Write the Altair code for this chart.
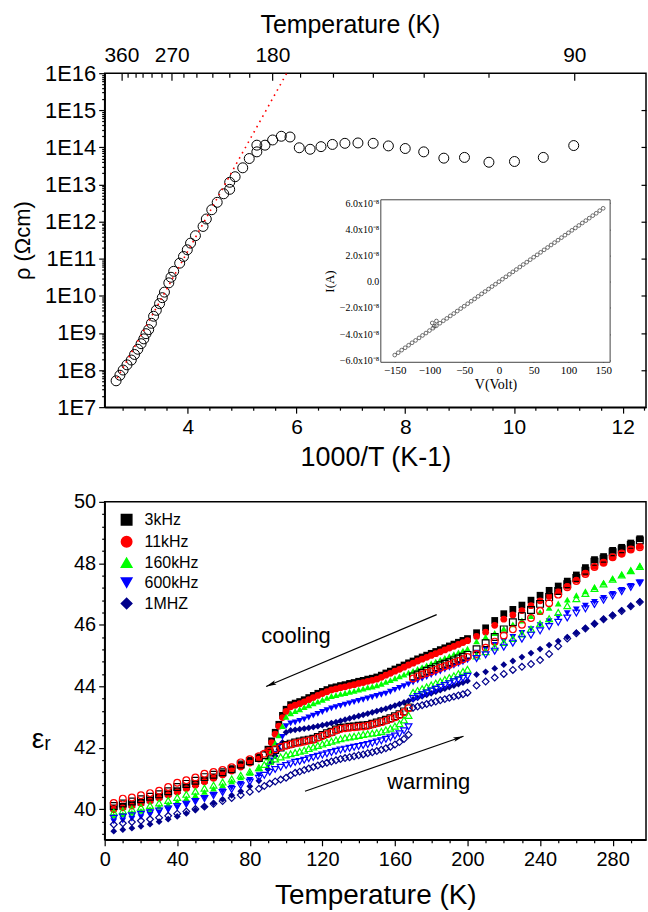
import math
import altair as alt
import pandas as pd

FONT = "Liberation Sans"
SERIF = "Liberation Serif"

# ---------------- top panel: resistivity vs 1000/T ----------------
INV_T = [2.68, 2.75, 2.81, 2.88, 2.96, 3.02, 3.08, 3.14, 3.19, 3.23,
         3.28, 3.33, 3.37, 3.42, 3.48, 3.53, 3.57, 3.65, 3.69, 3.74,
         3.85, 3.92, 3.99, 4.05, 4.14, 4.28, 4.34, 4.44, 4.54, 4.66,
         4.77, 4.77, 4.87, 5.01, 5.13, 5.27, 5.27, 5.42, 5.56, 5.72,
         5.88, 6.05, 6.25, 6.45, 6.66, 6.89, 7.13, 7.41, 7.69, 8.00,
         8.34, 8.71, 9.09, 9.54, 10.01, 10.54, 11.10]
LOG_RHO = [7.71, 7.86, 8.00, 8.14, 8.27, 8.42, 8.56, 8.71, 8.84, 8.98,
           9.09, 9.26, 9.45, 9.61, 9.79, 9.95, 10.10, 10.35, 10.50, 10.66,
           10.88, 11.06, 11.24, 11.42, 11.62, 11.87, 12.07, 12.32, 12.52, 12.75,
           12.87, 13.06, 13.21, 13.45, 13.70, 13.88, 14.06, 14.06, 14.20, 14.30,
           14.28, 13.99, 13.95, 14.02, 14.08, 14.11, 14.12, 14.11, 14.04, 13.97,
           13.88, 13.71, 13.73, 13.60, 13.62, 13.73, 14.05]
FIT_INV_T = [2.70, 5.82]
FIT_LOG_RHO = [7.78, 16.0]
T_AXIS_MAJOR = [360, 270, 180, 90]
T_AXIS_MINOR = [345, 330, 315, 300, 285, 255, 240, 225, 210, 195, 165, 150, 135, 120, 105]

# inset I-V (current in units of 1e-8 A)
IV_VOLT = [-150, -145, -140, -135, -130, -125, -120, -115, -110, -105,
           -100, -95, -90, -85, -80, -75, -70, -65, -60, -55,
           -50, -45, -40, -35, -30, -25, -20, -15, -10, -5,
           0, 5, 10, 15, 20, 25, 30, 35, 40, 45,
           50, 55, 60, 65, 70, 75, 80, 85, 90, 95,
           100, 105, 110, 115, 120, 125, 130, 135, 140, 145, 150,
           -96, -93, -90]
IV_CURRENT = [-5.60, -5.42, -5.22, -5.04, -4.85, -4.66, -4.48, -4.29, -4.10, -3.92,
              -3.73, -3.55, -3.36, -3.17, -2.98, -2.80, -2.61, -2.43, -2.24, -2.05,
              -1.87, -1.68, -1.49, -1.31, -1.12, -0.93, -0.75, -0.56, -0.37, -0.19,
              0.00, 0.19, 0.37, 0.56, 0.75, 0.93, 1.12, 1.31, 1.49, 1.68,
              1.87, 2.05, 2.24, 2.43, 2.61, 2.80, 2.98, 3.17, 3.36, 3.55,
              3.73, 3.92, 4.10, 4.29, 4.48, 4.66, 4.85, 5.04, 5.22, 5.42, 5.60,
              -3.15, -3.40, -3.00]

# ---------------- bottom panel: dielectric constant ----------------
FREQS = ["3kHz", "11kHz", "160kHz", "600kHz", "1MHZ"]
COLORS = ["#000000", "#ff0000", "#00ff00", "#0000ff", "#00008b"]
SHAPES = ["square", "circle", "triangle-up", "triangle-down", "diamond"]

T_COOL = [295, 290, 285, 280, 275, 270, 265, 260, 255, 250, 245, 240, 235, 230, 225, 220, 215, 210, 205,
          200, 197.5, 195, 192.5, 190, 187.5, 185, 182.5, 180, 177.5, 175, 172.5, 170, 167.5, 165, 162.5,
          160, 157.5, 155, 152.5, 150, 147.5, 145, 142.5, 140, 137.5, 135, 132.5, 130, 127.5, 125, 122.5,
          120, 117.5, 115, 112.5, 110, 107.5, 105, 102.5,
          100, 98, 96, 94, 92, 90,
          85, 80, 75, 70, 65, 60, 55, 50, 45, 40, 35, 30, 25, 20, 15, 10, 5]

COOL_3K = [48.80, 48.66, 48.52, 48.42, 48.22, 48.12, 47.86, 47.62, 47.42, 47.26, 47.12, 46.96, 46.80, 46.64, 46.50, 46.36, 46.14, 45.90, 45.74,
           45.55, 45.49, 45.43, 45.37, 45.31, 45.25, 45.19, 45.13, 45.07, 45.01, 44.95, 44.89, 44.82, 44.76, 44.69, 44.62,
           44.56, 44.49, 44.43, 44.36, 44.30, 44.26, 44.23, 44.19, 44.16, 44.12, 44.09, 44.05, 44.02, 43.98, 43.95, 43.89,
           43.83, 43.77, 43.70, 43.63, 43.56, 43.50, 43.45, 43.40,
           43.25, 43.05, 42.76, 42.50, 42.22, 41.95,
           41.70, 41.58, 41.44, 41.30, 41.17, 41.05, 40.94, 40.83, 40.72, 40.60, 40.50, 40.40, 40.30, 40.22, 40.15, 40.09, 40.04]
COOL_11K = [48.55, 48.45, 48.30, 48.20, 48.02, 47.90, 47.68, 47.45, 47.25, 47.08, 46.93, 46.78, 46.62, 46.46, 46.32, 46.18, 45.98, 45.76, 45.62,
            45.48, 45.42, 45.36, 45.30, 45.24, 45.18, 45.12, 45.06, 45.00, 44.94, 44.88, 44.82, 44.75, 44.69, 44.62, 44.55,
            44.49, 44.42, 44.36, 44.29, 44.23, 44.19, 44.16, 44.12, 44.09, 44.05, 44.02, 43.98, 43.95, 43.91, 43.88, 43.82,
            43.76, 43.70, 43.63, 43.56, 43.49, 43.43, 43.38, 43.33,
            43.18, 42.98, 42.70, 42.44, 42.16, 41.90,
            41.63, 41.50, 41.37, 41.24, 41.11, 41.00, 40.89, 40.78, 40.67, 40.56, 40.46, 40.36, 40.26, 40.18, 40.10, 40.04, 39.98]
COOL_160K = [47.92, 47.78, 47.64, 47.51, 47.37, 47.23, 47.09, 46.96, 46.82, 46.69, 46.55, 46.41, 46.28, 46.14, 46.01, 45.87, 45.73, 45.60, 45.46,
             45.22, 45.16, 45.10, 45.04, 44.98, 44.92, 44.86, 44.80, 44.74, 44.68, 44.62, 44.56, 44.50, 44.44, 44.38, 44.32,
             44.26, 44.20, 44.14, 44.08, 44.03, 43.99, 43.96, 43.92, 43.89, 43.85, 43.82, 43.78, 43.75, 43.71, 43.68, 43.62,
             43.56, 43.50, 43.44, 43.38, 43.32, 43.25, 43.19, 43.12,
             43.00, 42.70, 42.40, 42.15, 41.90, 41.68,
             41.33, 41.18, 41.03, 40.90, 40.78, 40.67, 40.56, 40.45, 40.35, 40.25, 40.16, 40.08, 40.00, 39.94, 39.88, 39.83, 39.79]
COOL_600K = [47.38, 47.26, 47.13, 47.00, 46.87, 46.74, 46.62, 46.50, 46.38, 46.25, 46.12, 45.99, 45.86, 45.73, 45.60, 45.47, 45.34, 45.21, 45.09,
             44.84, 44.78, 44.72, 44.66, 44.60, 44.54, 44.48, 44.42, 44.36, 44.30, 44.24, 44.18, 44.12, 44.06, 44.00, 43.94,
             43.88, 43.82, 43.76, 43.72, 43.68, 43.64, 43.60, 43.56, 43.52, 43.48, 43.44, 43.40, 43.36, 43.32, 43.28, 43.22,
             43.16, 43.10, 43.04, 42.98, 42.92, 42.87, 42.82, 42.79,
             42.70, 42.35, 42.05, 41.80, 41.58, 41.40,
             41.10, 40.95, 40.82, 40.70, 40.58, 40.47, 40.36, 40.26, 40.16, 40.06, 39.97, 39.89, 39.81, 39.74, 39.68, 39.63, 39.60]
COOL_1M = [46.76, 46.61, 46.47, 46.32, 46.18, 46.03, 45.89, 45.74, 45.60, 45.47, 45.34, 45.21, 45.08, 44.95, 44.82, 44.70, 44.58, 44.47, 44.38,
           44.17, 44.12, 44.07, 44.02, 43.97, 43.92, 43.87, 43.82, 43.77, 43.72, 43.67, 43.62, 43.57, 43.52, 43.47, 43.42,
           43.37, 43.32, 43.27, 43.23, 43.19, 43.15, 43.11, 43.07, 43.03, 42.99, 42.95, 42.91, 42.87, 42.83, 42.80, 42.76,
           42.73, 42.70, 42.67, 42.64, 42.62, 42.60, 42.58, 42.56,
           42.50, 42.17, 41.95, 41.73, 41.52, 41.30,
           40.92, 40.74, 40.58, 40.45, 40.32, 40.20, 40.08, 39.97, 39.86, 39.76, 39.67, 39.59, 39.51, 39.44, 39.38, 39.33, 39.28]

T_WARM = [5, 10, 15, 20, 25, 30, 35, 40, 45, 50, 55, 60, 65, 70, 75, 80, 85,
          88, 91, 94, 97,
          100, 102.5, 105, 107.5, 110, 112.5, 115, 117.5, 120, 122.5, 125, 127.5, 130, 132.5, 135, 137.5,
          140, 142.5, 145, 147.5, 150, 152.5, 155, 157.5, 160, 162.5, 165, 167.5,
          170, 172.5, 175, 177.5, 180, 182.5, 185, 187.5, 190, 192.5, 195, 197.5, 200,
          205, 210, 215, 220, 225, 230, 235, 240, 245, 250, 255, 260, 265, 270, 275, 280, 285, 290, 295]

WARM_3K = [40.10, 40.18, 40.25, 40.32, 40.40, 40.48, 40.58, 40.72, 40.82, 40.92, 41.04, 41.12, 41.20, 41.30, 41.45, 41.56, 41.66,
           41.75, 41.84, 41.92, 42.00,
           42.09, 42.13, 42.17, 42.20, 42.23, 42.26, 42.29, 42.35, 42.41, 42.47, 42.52, 42.59, 42.64, 42.66, 42.68, 42.69,
           42.71, 42.72, 42.74, 42.78, 42.82, 42.86, 42.91, 42.96, 43.02, 43.09, 43.18, 43.31,
           44.32, 44.38, 44.44, 44.50, 44.56, 44.62, 44.68, 44.73, 44.78, 44.84, 44.90, 44.96, 45.02,
           45.20, 45.40, 45.60, 45.85, 46.08, 46.28, 46.48, 46.68, 46.90, 47.10, 47.32, 47.52, 47.76, 48.05, 48.15, 48.36, 48.46, 48.60, 48.74]
WARM_11K = [40.20, 40.34, 40.38, 40.45, 40.52, 40.60, 40.72, 40.86, 40.94, 41.03, 41.15, 41.21, 41.27, 41.36, 41.52, 41.62, 41.72,
            41.80, 41.88, 41.95, 42.02,
            42.06, 42.10, 42.14, 42.17, 42.20, 42.23, 42.26, 42.32, 42.38, 42.44, 42.49, 42.56, 42.61, 42.63, 42.65, 42.66,
            42.68, 42.69, 42.71, 42.75, 42.79, 42.83, 42.88, 42.93, 42.99, 43.06, 43.15, 43.28,
            44.25, 44.32, 44.38, 44.43, 44.48, 44.54, 44.60, 44.65, 44.70, 44.76, 44.82, 44.88, 44.95,
            45.05, 45.25, 45.45, 45.65, 45.85, 46.00, 46.22, 46.45, 46.70, 46.98, 47.22, 47.42, 47.65, 47.88, 48.02, 48.20, 48.32, 48.45, 48.52]
WARM_160K = [39.90, 39.95, 40.00, 40.06, 40.12, 40.20, 40.28, 40.38, 40.48, 40.58, 40.68, 40.78, 40.88, 40.98, 41.10, 41.22, 41.35,
             41.45, 41.55, 41.63, 41.70,
             41.76, 41.80, 41.84, 41.88, 41.92, 41.97, 42.02, 42.07, 42.12, 42.17, 42.21, 42.25, 42.29, 42.32, 42.35, 42.37,
             42.40, 42.43, 42.45, 42.47, 42.49, 42.53, 42.58, 42.63, 42.70, 42.78, 42.90, 43.05,
             43.80, 43.86, 43.92, 43.98, 44.04, 44.10, 44.16, 44.22, 44.28, 44.34, 44.41, 44.48, 44.55,
             44.98, 45.12, 45.28, 45.42, 45.55, 45.70, 45.86, 46.03, 46.20, 46.40, 46.62, 46.85, 47.02, 47.18, 47.33, 47.48, 47.62, 47.76, 47.90]
WARM_600K = [39.70, 39.74, 39.78, 39.83, 39.88, 39.94, 40.00, 40.08, 40.16, 40.25, 40.34, 40.44, 40.54, 40.64, 40.76, 40.88, 41.00,
             41.10, 41.20, 41.29, 41.36,
             41.42, 41.47, 41.52, 41.55, 41.59, 41.64, 41.68, 41.72, 41.76, 41.80, 41.84, 41.88, 41.92, 41.95, 41.98, 42.01,
             42.04, 42.07, 42.10, 42.14, 42.18, 42.22, 42.27, 42.32, 42.38, 42.45, 42.55, 42.68,
             43.60, 43.66, 43.72, 43.78, 43.84, 43.90, 43.96, 44.02, 44.08, 44.14, 44.20, 44.26, 44.32,
             44.90, 45.02, 45.14, 45.27, 45.40, 45.53, 45.66, 45.80, 45.94, 46.08, 46.22, 46.38, 46.52, 46.66, 46.80, 46.94, 47.08, 47.22, 47.36]
WARM_1M = [39.50, 39.54, 39.58, 39.62, 39.67, 39.72, 39.78, 39.85, 39.92, 40.00, 40.08, 40.17, 40.26, 40.36, 40.46, 40.56, 40.66,
           40.75, 40.83, 40.90, 40.96,
           41.02, 41.10, 41.18, 41.22, 41.27, 41.32, 41.37, 41.42, 41.47, 41.51, 41.55, 41.59, 41.63, 41.66, 41.69, 41.72,
           41.75, 41.78, 41.82, 41.85, 41.89, 41.93, 41.98, 42.03, 42.10, 42.18, 42.28, 42.42,
           43.30, 43.34, 43.38, 43.42, 43.46, 43.50, 43.54, 43.58, 43.62, 43.66, 43.70, 43.74, 43.79,
           44.02, 44.15, 44.28, 44.40, 44.53, 44.63, 44.72, 44.85, 45.05, 45.30, 45.55, 45.72, 45.88, 46.03, 46.18, 46.30, 46.45, 46.60, 46.74]

COOL_VALUES = [COOL_3K, COOL_11K, COOL_160K, COOL_600K, COOL_1M]
WARM_VALUES = [WARM_3K, WARM_11K, WARM_160K, WARM_600K, WARM_1M]

# annotations (data units of the bottom panel)
ARROW_T = [183.0, 89.0, 110.4, 197.8]
ARROW_EPS = [46.33, 43.99, 40.58, 42.37]
ARROW_ID = ["cooling", "cooling", "warming", "warming"]
HEAD_T = [89.0, 197.8]
HEAD_EPS = [43.99, 42.37]
HEAD_ANGLE = [247, 71]
LABEL_T = [105.5, 178.6]
LABEL_EPS = [45.62, 40.88]
LABEL_TEXT = ["cooling", "warming"]

# ---------------- build frames ----------------
rho_df = pd.DataFrame({"u": INV_T, "L": LOG_RHO})
fit_df = pd.DataFrame({"u": FIT_INV_T, "L": FIT_LOG_RHO})
topmaj_df = pd.DataFrame({"u": [1000.0 / t for t in T_AXIS_MAJOR], "L": [16.0] * len(T_AXIS_MAJOR)})
topmin_df = pd.DataFrame({"u": [1000.0 / t for t in T_AXIS_MINOR], "L": [16.0] * len(T_AXIS_MINOR)})
iv_df = pd.DataFrame({"V": IV_VOLT, "I": IV_CURRENT})

cool_rows, warm_rows = [], []
for k, (f, vals) in enumerate(zip(FREQS, COOL_VALUES)):
    for t, v in zip(T_COOL, vals):
        cool_rows.append({"T": t, "eps": v, "freq": f, "k": k})
for k, (f, vals) in enumerate(zip(FREQS, WARM_VALUES)):
    for t, v in zip(T_WARM, vals):
        warm_rows.append({"T": t, "eps": v, "freq": f, "k": k})
cool_df = pd.DataFrame(cool_rows)
warm_df = pd.DataFrame(warm_rows)
arrow_df = pd.DataFrame({"T": ARROW_T, "eps": ARROW_EPS, "id": ARROW_ID})
head_df = pd.DataFrame({"T": HEAD_T, "eps": HEAD_EPS, "ang": HEAD_ANGLE})
label_df = pd.DataFrame({"T": LABEL_T, "eps": LABEL_EPS, "txt": LABEL_TEXT})


def sc(domain, rng=None):
    if rng is None:
        return alt.Scale(domain=domain, nice=False, zero=False)
    return alt.Scale(domain=domain, range=rng, nice=False, zero=False)


# ---------------- top panel ----------------
W1, H1 = 543, 335
X1 = [2.47, 12.43]
Y1 = [7.0, 16.0]
X1_MINOR = [round(2.8 + 0.4 * i, 2) for i in range(25) if round((2.8 + 0.4 * i) * 10) % 20 != 0]
Y1_MINOR = [n + math.log10(m) for n in range(7, 16) for m in range(2, 10)]

circles = alt.Chart(rho_df).mark_point(
    shape="circle", size=100, filled=False, color="black", strokeWidth=1, opacity=1
).encode(
    x=alt.X("u:Q", scale=sc(X1), axis=alt.Axis(
        orient="bottom", values=[4, 6, 8, 10, 12], title="1000/T (K-1)", tickSize=6,
        labelFontSize=21, titleFontSize=27, labelPadding=3, titlePadding=8)),
    y=alt.Y("L:Q", scale=sc(Y1), axis=alt.Axis(
        orient="left", values=list(range(7, 17)), labelExpr="'1E' + datum.value",
        title="ρ (Ωcm)", tickSize=6, labelFontSize=22, titleFontSize=22,
        labelPadding=3, titlePadding=10)),
)

fit = alt.Chart(fit_df).mark_line(color="red", strokeDash=[1.6, 4.4], strokeWidth=1.6).encode(
    x=alt.X("u:Q", scale=sc(X1), axis=alt.Axis(
        orient="bottom", values=X1_MINOR, labels=False, title=None, tickSize=3, domain=False)),
    y=alt.Y("L:Q", scale=sc(Y1), axis=alt.Axis(
        orient="left", values=Y1_MINOR, labels=False, title=None, tickSize=3, domain=False)),
)

top_major = alt.Chart(topmaj_df).mark_point(opacity=0).encode(
    x=alt.X("u:Q", scale=sc(X1), axis=alt.Axis(
        orient="top", values=[1000.0 / t for t in T_AXIS_MAJOR],
        labelExpr="format(1000/datum.value, '.0f')", title="Temperature (K)",
        tickSize=7, offset=-7, domain=False, labelFontSize=21, titleFontSize=25,
        labelPadding=8, titlePadding=7, titleX=246)),
    y=alt.Y("L:Q", scale=sc(Y1), axis=alt.Axis(
        orient="right", values=list(range(8, 16)), labels=False, title=None,
        tickSize=5, offset=-5, domain=False)),
)

top_minor = alt.Chart(topmin_df).mark_point(opacity=0).encode(
    x=alt.X("u:Q", scale=sc(X1), axis=alt.Axis(
        orient="top", values=[1000.0 / t for t in T_AXIS_MINOR], labels=False,
        title=None, tickSize=4, offset=-4, domain=False)),
    y=alt.Y("L:Q", scale=sc(Y1), axis=None),
)

# inset
IX = [-170, 160]
IY = [-6.15, 6.25]
IX_R = [277, 507]
IY_R = [290, 127]
IV_XT = [-150, -100, -50, 0, 50, 100, 150]
IV_YT = [-6, -4, -2, 0, 2, 4, 6]
frame_df = pd.DataFrame({"x0": [IX[0]], "x1": [IX[1]], "y0": [IY[0]], "y1": [IY[1]]})

inset_frame = alt.Chart(frame_df).mark_rect(fill="white", stroke="#444444", strokeWidth=1).encode(
    x=alt.X("x0:Q", scale=sc(IX, IX_R), axis=alt.Axis(
        orient="top", values=IV_XT, labels=False, title=None, tickSize=3,
        offset=-(IY_R[1] + 3), domain=False, tickColor="#444444")),
    x2="x1:Q",
    y=alt.Y("y0:Q", scale=sc(IY, IY_R), axis=alt.Axis(
        orient="right", values=IV_YT, labels=False, title=None, tickSize=3,
        offset=-(W1 - IX_R[1] + 3), domain=False, tickColor="#444444")),
    y2="y1:Q",
)

inset_pts = alt.Chart(iv_df).mark_point(
    shape="circle", size=14, filled=False, color="#333333", strokeWidth=0.7, opacity=1
).encode(
    x=alt.X("V:Q", scale=sc(IX, IX_R), axis=alt.Axis(
        orient="bottom", values=IV_XT, offset=-(H1 - IY_R[0] + 3), tickSize=3, domain=False,
        tickColor="#444444", labelFont=SERIF, labelFontSize=11, labelPadding=2,
        title="V(Volt)", titleFont=SERIF, titleFontSize=14, titlePadding=2)),
    y=alt.Y("I:Q", scale=sc(IY, IY_R), axis=alt.Axis(
        orient="left", values=IV_YT, offset=-(IX_R[0] + 3), tickSize=3, domain=False,
        tickColor="#444444",
        labelExpr="datum.value == 0 ? '0.0' : format(datum.value, '.1f') + 'x10⁻⁸'",
        labelFont=SERIF, labelFontSize=10, labelPadding=2,
        title="I(A)", titleFont=SERIF, titleFontSize=13, titlePadding=3)),
)

top = alt.layer(circles, fit, top_major, top_minor, inset_frame, inset_pts).resolve_scale(
    x="independent", y="independent"
).properties(width=W1, height=H1)

# ---------------- bottom panel ----------------
W2, H2 = 543, 339
X2 = [0, 298.4]
Y2 = [39, 50]
X2_MINOR = [t for t in range(10, 300, 10) if t % 40 != 0]
Y2_MINOR = [round(39.2 + 0.4 * i, 1) for i in range(28) if round((39.2 + 0.4 * i) * 10) % 20 != 0]

color_scale = alt.Scale(domain=FREQS, range=COLORS)
shape_scale = alt.Scale(domain=FREQS, range=SHAPES)
legend = alt.Legend(
    title=None, orient="none", legendX=14, legendY=10, labelFont=FONT, labelFontSize=16,
    labelColor="black", symbolSize=110, rowPadding=4, labelOffset=10, padding=0,
)

cool = alt.Chart(cool_df).mark_point(filled=True, size=46, opacity=1, strokeWidth=0).encode(
    x=alt.X("T:Q", scale=sc(X2), axis=alt.Axis(
        orient="bottom", values=[0, 40, 80, 120, 160, 200, 240, 280], title="Temperature (K)",
        tickSize=6, labelFontSize=20, titleFontSize=28, labelPadding=4, titlePadding=12)),
    y=alt.Y("eps:Q", scale=sc(Y2), axis=alt.Axis(
        orient="left", values=[40, 42, 44, 46, 48, 50], title="εᵣ", titleAngle=0,
        titleX=-64, titleY=238, titleAlign="center", titleBaseline="middle",
        tickSize=6, labelFontSize=20, titleFontSize=28, labelPadding=3)),
    color=alt.Color("freq:N", scale=color_scale, legend=legend),
    shape=alt.Shape("freq:N", scale=shape_scale, legend=legend),
    order=alt.Order("k:Q"),
)

warm = alt.Chart(warm_df).mark_point(filled=False, size=46, strokeWidth=1.2, opacity=1).encode(
    x=alt.X("T:Q", scale=sc(X2), axis=alt.Axis(
        orient="bottom", values=X2_MINOR, labels=False, title=None, tickSize=3, domain=False)),
    y=alt.Y("eps:Q", scale=sc(Y2), axis=alt.Axis(
        orient="left", values=Y2_MINOR, labels=False, title=None, tickSize=3, domain=False)),
    color=alt.Color("freq:N", scale=color_scale, legend=None),
    shape=alt.Shape("freq:N", scale=shape_scale, legend=None),
    order=alt.Order("k:Q"),
)

arrows = alt.Chart(arrow_df).mark_line(color="black", strokeWidth=1.2).encode(
    x=alt.X("T:Q", scale=sc(X2), axis=None),
    y=alt.Y("eps:Q", scale=sc(Y2), axis=None),
    detail="id:N",
)

ARROW_PATH = "M0,0L0.38,1.7L0,1.35L-0.38,1.7Z"
heads = alt.Chart(head_df).mark_point(shape=ARROW_PATH, size=150, filled=True, color="black", opacity=1).encode(
    x=alt.X("T:Q", scale=sc(X2), axis=None),
    y=alt.Y("eps:Q", scale=sc(Y2), axis=None),
    angle=alt.Angle("ang:Q", scale=None),
)

labels = alt.Chart(label_df).mark_text(font=FONT, fontSize=22, color="black").encode(
    x=alt.X("T:Q", scale=sc(X2), axis=None),
    y=alt.Y("eps:Q", scale=sc(Y2), axis=None),
    text="txt:N",
)

bottom = alt.layer(cool, warm, arrows, heads, labels).resolve_scale(
    x="independent", y="independent"
).properties(width=W2, height=H2)

chart = alt.vconcat(top, bottom, spacing=19).resolve_legend(
    color="independent", shape="independent"
).properties(
    padding={"left": 10, "top": 10, "right": 0, "bottom": 0}
).configure_view(
    stroke="black", strokeWidth=1.5
).configure_axis(
    grid=False, domainColor="black", domainWidth=1.5, tickColor="black", tickWidth=1.2,
    labelFont=FONT, titleFont=FONT, labelColor="black", titleColor="black",
    titleFontWeight="normal", labelFlush=False, labelOverlap=False,
)

chart.save("out.html", embed_options={"renderer": "svg", "actions": False})
